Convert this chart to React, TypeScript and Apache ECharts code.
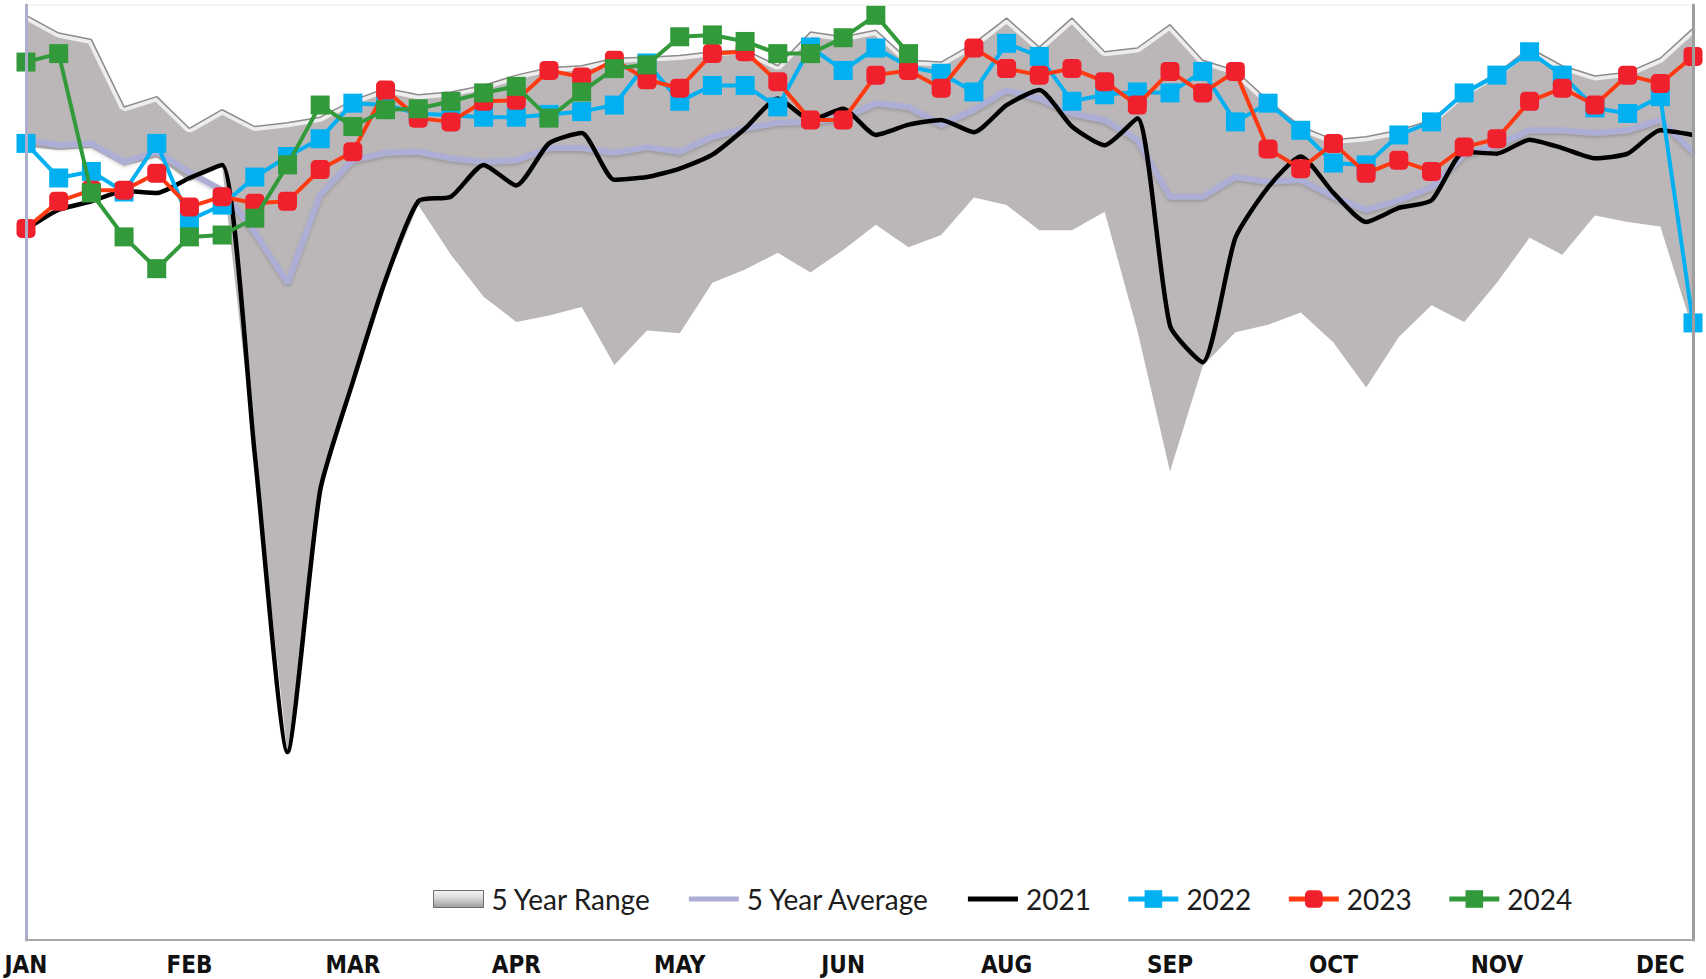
import React, { useEffect, useRef } from 'react';
import * as echarts from 'echarts';

const weeks = Array.from({ length: 52 }, (_, i) => `W${i + 1}`);
const monthLabels = ['JAN', 'FEB', 'MAR', 'APR', 'MAY', 'JUN', 'AUG', 'SEP', 'OCT', 'NOV', 'DEC'];

const rangeMax = [
  98.9, 97.0, 96.3, 89.1, 90.2, 86.8, 88.8, 87.0, 87.4, 88.0, 89.8, 91.1, 90.4,
  90.7, 91.4, 92.5, 93.3, 93.5, 94.3, 94.4, 94.6, 95.0, 95.2, 93.5, 97.1, 96.6,
  97.3, 94.1, 93.9, 95.9, 98.6, 95.5, 98.6, 95.0, 95.4, 97.9, 94.1, 93.0, 89.8,
  87.0, 85.6, 85.9, 86.6, 87.7, 90.7, 92.7, 95.4, 93.5, 92.4, 92.8, 94.3, 97.5,
];
const rangeMin = [
  84.8, 84.5, 84.7, 82.8, 83.7, 81.1, 82.7, 51.7, 19.8, 47.8, 59.4, 70.3, 78.6,
  73.3, 68.8, 66.1, 66.8, 67.7, 61.5, 65.2, 64.9, 70.3, 71.7, 73.5, 71.4, 73.8,
  76.5, 74.1, 75.4, 79.4, 78.6, 75.9, 75.9, 77.9, 65.2, 50.1, 61.4, 65.0, 65.8,
  67.1, 63.9, 59.1, 64.5, 67.9, 66.1, 70.3, 75.1, 73.3, 77.5, 76.8, 76.3, 65.2,
];
const avg5 = [
  85.6, 85.0, 85.2, 83.2, 84.3, 82.1, 80.2, 75.7, 70.3, 79.7, 83.4, 84.2, 84.3,
  83.6, 83.2, 83.4, 84.7, 84.7, 84.2, 84.8, 84.3, 85.9, 86.8, 87.4, 87.5, 87.9,
  89.5, 89.1, 87.2, 88.8, 90.9, 90.0, 88.4, 87.7, 85.6, 79.5, 79.5, 81.6, 81.1,
  81.3, 79.5, 78.1, 79.1, 80.5, 84.0, 85.0, 86.6, 86.6, 86.3, 86.6, 87.7, 84.3,
];
const y2021 = [
  76.0, 78.1, 79.0, 80.1, 79.9, 81.5, 82.9, 51.9, 20.1, 48.1, 59.7, 70.6, 79.0,
  79.5, 82.9, 80.7, 85.2, 86.3, 81.3, 81.6, 82.5, 84.0, 86.8, 90.0, 87.7, 88.9,
  86.1, 87.2, 87.7, 86.4, 89.3, 90.9, 87.0, 85.0, 87.9, 65.7, 61.8, 75.1, 80.5,
  83.8, 79.9, 76.8, 78.3, 79.1, 84.3, 84.1, 85.6, 84.7, 83.6, 84.1, 86.6, 86.1,
];
const y2022 = [
  85.2, 81.5, 82.2, 80.0, 85.2, 77.0, 78.6, 81.6, 83.8, 85.7, 89.5, 89.3, 88.4,
  88.2, 88.0, 88.0, 88.3, 88.6, 89.3, 93.8, 89.7, 91.4, 91.4, 89.1, 95.5, 93.0,
  95.4, 93.4, 92.7, 90.7, 95.9, 94.5, 89.7, 90.4, 90.7, 90.6, 92.9, 87.5, 89.5,
  86.6, 83.1, 82.9, 86.1, 87.5, 90.6, 92.5, 95.0, 92.5, 89.0, 88.4, 90.2, 66.0,
];
const y2023 = [
  76.1, 79.0, 80.2, 80.2, 82.0, 78.4, 79.5, 78.8, 79.0, 82.4, 84.3, 90.9, 87.9,
  87.5, 89.7, 89.8, 93.0, 92.3, 94.1, 92.0, 91.1, 94.8, 95.0, 91.8, 87.7, 87.7,
  92.5, 93.0, 91.1, 95.4, 93.2, 92.5, 93.2, 91.8, 89.3, 92.9, 90.6, 92.9, 84.6,
  82.5, 85.2, 82.0, 83.4, 82.2, 84.8, 85.7, 89.7, 91.1, 89.3, 92.5, 91.6, 94.5,
];
const y2024 = [
  93.9, 94.8, 79.9, 75.2, 71.8, 75.2, 75.4, 77.2, 82.9, 89.3, 87.0, 88.8, 88.9,
  89.7, 90.6, 91.3, 87.9, 90.7, 93.2, 93.6, 96.6, 96.8, 96.1, 94.8, 94.8, 96.5,
  98.9, 94.8,
];

export default function App() {
  const ref = useRef<HTMLDivElement>(null);

  useEffect(() => {
    document.body.style.margin = '0';
    if (!ref.current) return;
    const chart = echarts.init(ref.current, null, { renderer: 'svg' });

    const rangeSpan = rangeMax.map((m, i) => +(m - rangeMin[i]).toFixed(1));
    const rangeGradient = new echarts.graphic.LinearGradient(0, 0, 0, 1, [
      { offset: 0, color: '#f6f6f6' },
      { offset: 0.45, color: '#d8d8d8' },
      { offset: 1, color: '#9c9c9c' },
    ]);

    chart.setOption({
      animation: false,
      backgroundColor: '#ffffff',
      grid: {
        left: 26,
        right: 13,
        top: 5,
        bottom: 39,
        show: true,
        borderColor: '#ececec',
        borderWidth: 1,
      },
      xAxis: {
        type: 'category',
        data: weeks,
        boundaryGap: false,
        z: 10,
        axisLine: { show: true, lineStyle: { color: '#a9a9a9', width: 2 } },
        axisTick: { show: false },
        splitLine: { show: false },
        axisLabel: {
          interval: 0,
          margin: 14,
          fontFamily: "'Liberation Sans Narrow', 'DejaVu Sans Condensed', Arial, sans-serif",
          fontWeight: 'bold',
          fontSize: 24,
          lineHeight: 22,
          color: '#111111',
          formatter: (_v: string, idx: number) => (idx % 5 === 0 ? monthLabels[idx / 5] ?? '' : ''),
        },
      },
      yAxis: [
        {
          type: 'value',
          min: 0,
          max: 100,
          z: 10,
          axisLine: { show: true, lineStyle: { color: '#adadcc', width: 3 } },
          axisTick: { show: false },
          axisLabel: { show: false },
          splitLine: { show: false },
        },
        {
          type: 'value',
          position: 'right',
          min: 0,
          max: 100,
          z: 10,
          axisLine: { show: true, lineStyle: { color: '#9e9e9e', width: 3 } },
          axisTick: { show: false },
          axisLabel: { show: false },
          splitLine: { show: false },
        },
      ],
      legend: {
        left: 428,
        top: 880,
        itemWidth: 50,
        itemHeight: 22,
        itemGap: 35,
        lineStyle: { width: 5 },
        textStyle: {
          fontFamily: 'Lato, sans-serif',
          fontSize: 28,
          color: '#1c1c1c',
          padding: [0, 0, 0, 3],
        },
        data: [
          {
            name: '5 Year Range',
            icon: 'path://M0,0 L50,0 L50,17 L0,17 Z',
            itemStyle: { color: rangeGradient, borderColor: '#6e6e6e', borderWidth: 1 },
          },
          { name: '5 Year Average', itemStyle: { opacity: 0 } },
          { name: '2021', itemStyle: { opacity: 0 } },
          { name: '2022' },
          { name: '2023' },
          { name: '2024' },
        ],
      },
      series: [
        {
          name: 'rangeBase',
          type: 'line',
          stack: 'range',
          data: rangeMin,
          symbol: 'none',
          silent: true,
          lineStyle: { width: 0, opacity: 0 },
          z: 1,
        },
        {
          name: '5 Year Range',
          type: 'line',
          stack: 'range',
          data: rangeSpan,
          symbol: 'none',
          silent: true,
          itemStyle: { color: '#bbb7b9' },
          areaStyle: { color: '#bbb7b9', opacity: 1 },
          lineStyle: { color: 'rgba(255,255,255,0.75)', width: 9 },
          z: 1,
        },
        {
          name: 'rangeEdge',
          type: 'line',
          data: rangeMax,
          symbol: 'none',
          silent: true,
          lineStyle: { color: '#8f8b8d', width: 1.5 },
          z: 1,
        },
        {
          name: '5 Year Average',
          type: 'line',
          data: avg5,
          symbol: 'none',
          itemStyle: { color: '#adaed6' },
          lineStyle: {
            color: '#adaed6',
            width: 6,
            shadowColor: 'rgba(60,60,60,0.25)',
            shadowBlur: 3,
            shadowOffsetY: 2,
          },
          z: 2,
        },
        {
          name: '2021',
          type: 'line',
          data: y2021,
          symbol: 'none',
          smooth: 0.2,
          itemStyle: { color: '#000000' },
          lineStyle: { color: '#000000', width: 4.5 },
          z: 3,
        },
        {
          name: '2022',
          type: 'line',
          data: y2022,
          symbol: 'rect',
          symbolSize: 19,
          itemStyle: { color: '#00b0f0' },
          lineStyle: { color: '#00b0f0', width: 4 },
          z: 4,
        },
        {
          name: '2023',
          type: 'line',
          data: y2023,
          symbol: 'roundRect',
          symbolSize: 19,
          itemStyle: { color: '#f0202c' },
          lineStyle: { color: '#ff3a12', width: 4 },
          z: 5,
        },
        {
          name: '2024',
          type: 'line',
          data: y2024,
          symbol: 'rect',
          symbolSize: 19,
          itemStyle: { color: '#329a3a' },
          lineStyle: { color: '#329a3a', width: 4 },
          z: 6,
        },
      ],
    });

    return () => chart.dispose();
  }, []);

  return <div ref={ref} style={{ width: 1706, height: 979 }} />;
}
